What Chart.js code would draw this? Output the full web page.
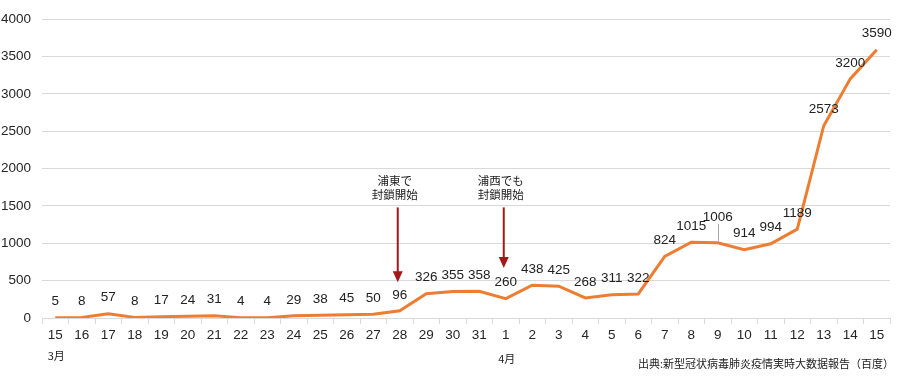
<!DOCTYPE html>
<html>
<head>
<meta charset="utf-8">
<script src="https://cdn.jsdelivr.net/npm/chart.js@4.4.1/dist/chart.umd.min.js"></script>
<style>
  html, body { margin: 0; padding: 0; background: #fff; }
  #wrap { width: 900px; height: 379px; position: relative; }
</style>
</head>
<body>
<div id="wrap"><canvas id="lineChart"></canvas></div>
<script>
// days (Mar 15 - Apr 15)
const days = ['15','16','17','18','19','20','21','22','23','24','25','26','27','28','29','30','31',
              '1','2','3','4','5','6','7','8','9','10','11','12','13','14','15'];
const cases = [5, 8, 57, 8, 17, 24, 31, 4, 4, 29, 38, 45, 50, 96, 326, 355, 358,
               260, 438, 425, 268, 311, 322, 824, 1015, 1006, 914, 994, 1189, 2573, 3200, 3590];
const monthNames = ['3月', '4月'];
const monthStart = [0, 17];
const noteText = [['浦東で', '封鎖開始'], ['浦西でも', '封鎖開始']];
const noteAt = [13, 17];
const yTicks = [0, 500, 1000, 1500, 2000, 2500, 3000, 3500, 4000];
const sourceText = '出典:新型冠状病毒肺炎疫情実時大数据報告（百度）';

const NUM_FONT = '"Liberation Sans", Arial, sans-serif';
const JP_FONT = '"Noto Sans CJK JP", "Noto Sans", sans-serif';

// value labels above each point
const valueLabels = {
    id: 'valueLabels',
    afterDatasetsDraw(chart, args, opts) {
        const ctx = chart.ctx;
        const meta = chart.getDatasetMeta(0);
        ctx.save();
        ctx.font = '13.5px ' + NUM_FONT;
        ctx.fillStyle = '#222';
        ctx.textAlign = 'center';
        ctx.textBaseline = 'middle';
        meta.data.forEach(function (pt, i) {
            const lift = opts.lift + (opts.raised[i] || 0);
            if (opts.raised[i]) {
                ctx.strokeStyle = '#a6a6a6';
                ctx.lineWidth = 1;
                ctx.beginPath();
                ctx.moveTo(Math.round(pt.x) + 0.5, pt.y - 2);
                ctx.lineTo(Math.round(pt.x) + 0.5, pt.y - lift + 7);
                ctx.stroke();
            }
            ctx.fillText(String(cases[i]), pt.x, pt.y - lift);
        });
        ctx.restore();
    }
};

// lockdown notes with arrows, month names and source
const extras = {
    id: 'extras',
    afterDraw(chart, args, opts) {
        const ctx = chart.ctx;
        const xs = chart.scales.x;
        const ys = chart.scales.y;
        ctx.save();

        noteAt.forEach(function (idx, n) {
            const x = xs.getPixelForValue(idx) - 2;
            const top = ys.getPixelForValue(opts.arrowTop);
            const tip = ys.getPixelForValue(opts.arrowTip[n]);
            ctx.strokeStyle = '#a01a1a';
            ctx.fillStyle = '#a01a1a';
            ctx.lineWidth = 2;
            ctx.beginPath();
            ctx.moveTo(x, top);
            ctx.lineTo(x, tip - 9);
            ctx.stroke();
            ctx.beginPath();
            ctx.moveTo(x - 5, tip - 11);
            ctx.lineTo(x + 5, tip - 11);
            ctx.lineTo(x, tip);
            ctx.closePath();
            ctx.fill();

            ctx.font = '11.5px ' + JP_FONT;
            ctx.fillStyle = '#222';
            ctx.textAlign = 'center';
            ctx.textBaseline = 'middle';
            noteText[n].forEach(function (line, k) {
                ctx.fillText(line, x - 3, top - 27 + k * 14);
            });
        });

        ctx.font = '11px ' + JP_FONT;
        ctx.fillStyle = '#222';
        ctx.textAlign = 'center';
        ctx.textBaseline = 'middle';
        monthStart.forEach(function (idx, n) {
            ctx.fillText(monthNames[n], xs.getPixelForValue(idx) + 1, xs.bottom - 23 + n * 3);
        });

        ctx.textAlign = 'right';
        ctx.fillText(sourceText, chart.width - 6, chart.height - 15);
        ctx.restore();
    }
};

new Chart(document.getElementById('lineChart'), {
    type: 'line',
    data: {
        labels: days,
        datasets: [{
            data: cases,
            borderColor: '#ed7d31',
            borderWidth: 3,
            pointRadius: 0,
            tension: 0,
            fill: false
        }]
    },
    options: {
        responsive: true,
        maintainAspectRatio: false,
        animation: false,
        layout: { padding: { top: 17, right: 10, left: 0, bottom: 0 } },
        plugins: {
            legend: { display: false },
            tooltip: { enabled: false },
            valueLabels: { lift: 16, raised: { 25: 10 } },
            extras: { arrowTop: 1480, arrowTip: [480, 670] }
        },
        scales: {
            x: {
                offset: true,
                grid: {
                    offset: true,
                    drawOnChartArea: false,
                    drawTicks: true,
                    tickLength: 6,
                    color: '#d9d9d9'
                },
                border: { color: '#d9d9d9' },
                ticks: {
                    autoSkip: false,
                    maxRotation: 0,
                    padding: 3,
                    color: '#262626',
                    font: { family: NUM_FONT, size: 13.5 }
                },
                afterFit: function (scale) { scale.height = 61; }
            },
            y: {
                min: 0,
                max: 4000,
                afterBuildTicks: function (scale) {
                    scale.ticks = yTicks.map(function (v) { return { value: v }; });
                },
                grid: { color: '#d9d9d9', drawTicks: false },
                border: { display: false },
                ticks: {
                    padding: 11,
                    color: '#262626',
                    font: { family: NUM_FONT, size: 13.5 },
                    callback: function (value) { return String(value); }
                },
                afterFit: function (scale) { scale.width = 42; }
            }
        }
    },
    plugins: [valueLabels, extras]
});
</script>
</body>
</html>
